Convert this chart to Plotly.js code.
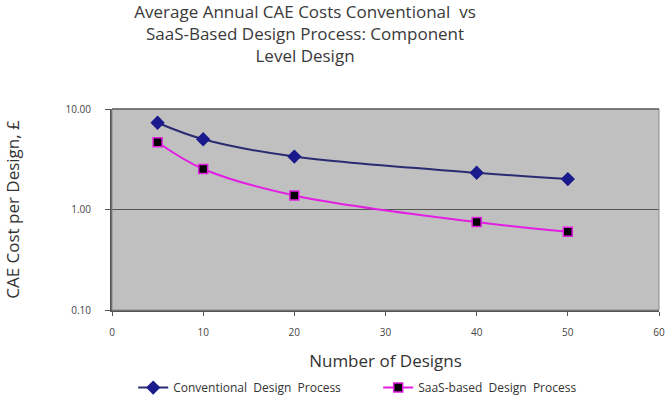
<!DOCTYPE html>
<html>
<head>
<meta charset="utf-8">
<script src="https://cdn.plot.ly/plotly-3.0.1.min.js"></script>
<style>
  html, body { margin: 0; padding: 0; background: #fff; }
  #chart { width: 666px; height: 402px; }
</style>
</head>
<body>
<div id="chart"></div>
<script>
// Number of designs per year
const designs = [5, 10, 20, 40, 50];
// Average CAE cost per design (£)
const conventionalCost = [7.3, 5.0, 3.36, 2.32, 2.01];
const saasCost = [4.67, 2.53, 1.38, 0.75, 0.60];
// Y axis labels
const yTickVals = [0.1, 1, 10];
const yTickText = ['0.10', '1.00', '10.00'];

const font = 'Open Sans, Liberation Sans, sans-serif';

const traces = [
  {
    x: designs, y: conventionalCost,
    name: 'Conventional  Design  Process',
    mode: 'lines+markers',
    line: { color: '#2b2b72', width: 2, shape: 'spline' },
    marker: { symbol: 'diamond', size: 11, color: '#1a1a8c' }
  },
  {
    x: designs, y: saasCost,
    name: 'SaaS-based  Design  Process',
    mode: 'lines+markers',
    line: { color: '#e21ee2', width: 2, shape: 'spline' },
    marker: { symbol: 'square', size: 9, color: '#000000',
              line: { color: '#e21ee2', width: 1.5 } }
  }
];

const layout = {
  width: 666, height: 402,
  margin: { l: 112, r: 7, t: 109, b: 92, autoexpand: false },
  paper_bgcolor: '#ffffff',
  plot_bgcolor: '#c0c0c0',
  font: { family: font, color: '#333333' },
  showlegend: true,
  title: {
    text: 'Average Annual CAE Costs Conventional  vs<br>SaaS-Based Design Process: Component<br>Level Design',
    font: { size: 17, color: '#3a3a3a', family: font },
    x: 0.458, xref: 'container', xanchor: 'center',
    y: 0.955, yref: 'container', yanchor: 'top'
  },
  xaxis: {
    range: [0, 60], dtick: 10, tick0: 0,
    ticks: 'outside', ticklen: 4, tickcolor: '#555555',
    ticklabelstandoff: 8,
    showgrid: false, zeroline: false,
    showline: true, linecolor: '#555555', linewidth: 2, mirror: false,
    tickfont: { size: 10, color: '#444444' },
    title: { text: 'Number of Designs', font: { size: 17, color: '#333333' }, standoff: 17 }
  },
  yaxis: {
    type: 'log', range: [-1, 1],
    tickvals: yTickVals, ticktext: yTickText,
    ticks: 'outside', ticklen: 5, tickcolor: '#555555',
    ticklabelstandoff: 12,
    showgrid: true, gridcolor: '#555555', gridwidth: 1.5,
    zeroline: false, showline: true, linecolor: '#555555', linewidth: 2,
    tickfont: { size: 10, color: '#444444' },
    title: { text: 'CAE Cost per Design, £', font: { size: 17, color: '#333333' }, standoff: 42 }
  },
  legend: {
    orientation: 'h', x: 0.2, xref: 'container', xanchor: 'left',
    y: 0.072, yref: 'container', yanchor: 'top',
    entrywidth: 200,
    font: { size: 12, color: '#333333' }, bgcolor: 'rgba(0,0,0,0)'
  },
  shapes: [
    { type: 'rect', xref: 'paper', yref: 'paper', x0: 0, x1: 1, y0: 0, y1: 1,
      line: { color: '#8a8a8a', width: 1 } },
    { type: 'line', xref: 'paper', yref: 'paper', x0: 0, x1: 1, y0: 1, y1: 1,
      line: { color: '#666666', width: 1.5 } }
  ]
};

Plotly.newPlot('chart', traces, layout, { displayModeBar: false, staticPlot: true });
</script>
</body>
</html>
